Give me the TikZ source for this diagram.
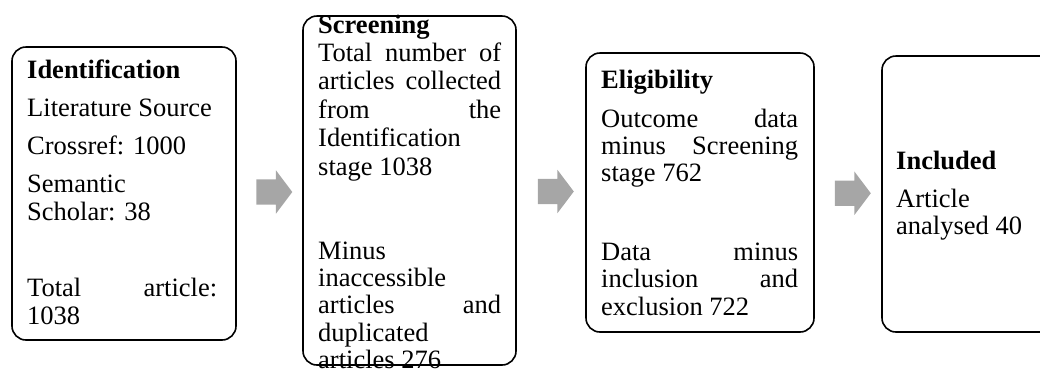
\documentclass[tikz,border=0pt]{standalone}
\usepackage{fontspec}
\setmainfont{Liberation Serif}
\usetikzlibrary{shapes.arrows,calc}
\definecolor{arrowgray}{RGB}{166,166,166}
\newcommand{\stagefont}{\fontsize{26.5}{27.3}\selectfont}
\tolerance=9999
\hbadness=10000
\hyphenpenalty=10000

\begin{document}
\begin{tikzpicture}[x=1pt, y=-1pt,
  stagebox/.style={draw, line width=1.6pt, rounded corners=14pt, inner sep=0pt},
  stagetext/.style={anchor=base west, inner sep=0pt, align=justify, font=\stagefont},
  flowarrow/.style={single arrow, fill=arrowgray, draw=none, inner xsep=0pt, inner ysep=12.5pt, minimum height=36pt, single arrow head extend=9pt, single arrow tip angle=106}]
  \useasboundingbox (0,0) rectangle (1040,368);

  %--- Stage boxes ---
  \node[stagebox, minimum width=224pt, minimum height=293pt] (ident) at (124,193.5) {};
  \node[stagebox, minimum width=213pt, minimum height=349pt] (screen) at (409.5,190.5) {};
  \node[stagebox, minimum width=228pt, minimum height=279pt] (elig) at (700,192.5) {};
  \node[stagebox, minimum width=180pt, minimum height=276pt] (incl) at (972,194) {};

  %--- Stage texts ---
  \node[stagetext, text width=190pt] (identtxt) at (27,78) {\parskip=11pt
    \textbf{Identification}\par Literature Source\par Crossref: 1000\par
    Semantic Scholar: 38\par\mbox{}\par Total article: 1038};
  \node[stagetext, text width=183pt] (screentxt) at (318,33) {\fontsize{26.5}{28.4}\selectfont
    \textbf{Screening}\par Total~number~of\linebreak articles~collected\linebreak from~the\linebreak
    Identification\linebreak stage~1038\par
    \mbox{}\par\mbox{}\par Minus\linebreak inaccessible\linebreak articles~and\linebreak
    duplicated\linebreak articles~276};
  \node[stagetext, text width=197pt] (eligtxt) at (601,88) {\parskip=12pt
    \textbf{Eligibility}\par Outcome data minus Screening stage 762\par\mbox{}\par
    Data minus inclusion and exclusion 722};
  \node[stagetext, text width=150pt] (incltxt) at (896,169) {\parskip=11pt
    \textbf{Included}\par Article analysed 40};

  %--- Arrows between stages ---
  \node[flowarrow] (arr1) at ($(ident.east)!0.5!(screen.west)$) {};
  \node[flowarrow] (arr2) at ($(screen.east)!0.5!(elig.west)$) {};
  \node[flowarrow] (arr3) at ($(elig.east)!0.5!(incl.west)$) {};
\end{tikzpicture}
\end{document}
